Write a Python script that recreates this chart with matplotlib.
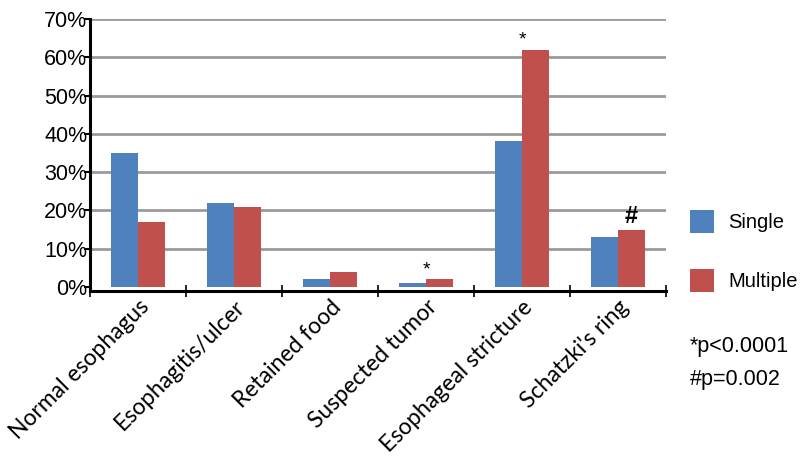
#!/usr/bin/env python3
"""Endoscopic findings by single vs multiple episodes."""

import matplotlib
matplotlib.use("Agg")
import matplotlib.pyplot as plt
import numpy as np

categories = [
    "Normal esophagus",
    "Esophagitis/ulcer",
    "Retained food",
    "Suspected tumor",
    "Esophageal stricture",
    "Schatzki's ring",
]
single = [35, 22, 2, 1, 38, 13]
multiple = [17, 21, 4, 2, 62, 15]
# significance markers above the "Multiple" bar
markers = ["", "", "", "*", "*", "#"]
y_ticks = [0, 10, 20, 30, 40, 50, 60, 70]

BLUE = "#4F81BD"
RED = "#C0504D"

fig = plt.figure(figsize=(8.0, 4.71), dpi=100)
ax = fig.add_axes([0.1125, 0.383, 0.72, 0.577])

x = np.arange(len(categories))
width = 0.28
b1 = ax.bar(x - width / 2, single, width, color=BLUE, label="Single", zorder=3)
b2 = ax.bar(x + width / 2, multiple, width, color=RED, label="Multiple", zorder=3)

for bar, m in zip(b2, markers):
    if not m:
        continue
    cx = bar.get_x() + (0.0 if m == "*" else bar.get_width() / 2)
    ax.annotate(
        m,
        xy=(cx, bar.get_height()),
        xytext=(0, 1),
        textcoords="offset points",
        ha="center",
        va="bottom",
        fontsize=14 if m == "*" else 17,
        fontweight="normal" if m == "*" else "bold",
        family="Liberation Sans",
    )

ax.set_xlim(-0.5, len(categories) - 0.5)
ax.set_ylim(-0.9, 70)
ax.set_yticks(y_ticks)
ax.set_yticklabels([f"{v}%" for v in y_ticks], family="Liberation Sans", fontsize=15.5)
ax.tick_params(axis="y", length=4, width=1.5, pad=-2, direction="out")

ax.set_xticks(x)
ax.set_xticklabels(
    categories, rotation=45, ha="right", rotation_mode="anchor",
    family="Lato", fontsize=16.5,
)
ax.tick_params(axis="x", length=0, pad=4)
ax.set_xticks(np.arange(len(categories) + 1) - 0.5, minor=True)
ax.tick_params(axis="x", which="minor", length=8, width=1.2, direction="inout")

for v in y_ticks[1:]:
    ax.axhline(v, color="#9a9a9a", linewidth=2, zorder=1)

for side in ("top", "right"):
    ax.spines[side].set_visible(False)
ax.spines["left"].set_linewidth(2.2)
ax.spines["bottom"].set_linewidth(2.2)

leg = ax.legend(
    handles=[b1, b2],
    loc="upper left",
    bbox_to_anchor=(1.01, 0.365),
    frameon=False,
    prop={"family": "Liberation Sans", "size": 14.5},
    handlelength=1.2,
    handleheight=1.4,
    labelspacing=1.8,
    handletextpad=0.7,
)

fig.text(0.862, 0.252, "*p<0.0001", family="Liberation Sans", fontsize=15.5)
fig.text(0.862, 0.182, "#p=0.002", family="Liberation Sans", fontsize=15.5)

fig.savefig("out.png", dpi=100)
